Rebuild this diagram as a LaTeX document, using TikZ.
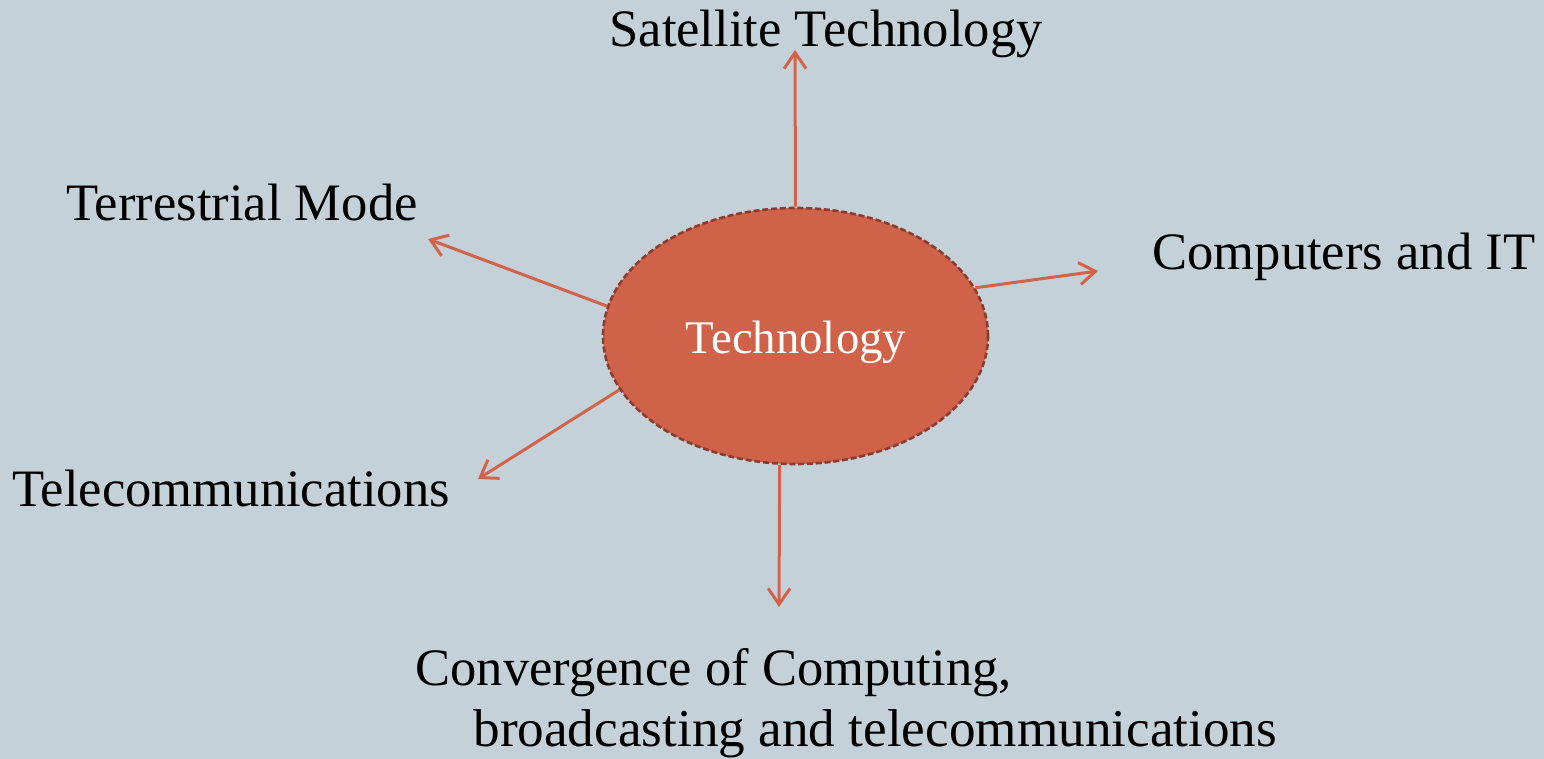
\documentclass[tikz,border=0pt]{standalone}
\usepackage{fontspec}
\setmainfont{Liberation Serif}
\usetikzlibrary{shapes.geometric,arrows.meta}
\definecolor{bgc}{HTML}{C5D1D8}
\definecolor{fillc}{HTML}{D06249}
\definecolor{edgec}{HTML}{8A3C2E}
\definecolor{arrc}{HTML}{D2634A}
\tikzset{
  lbl/.style={anchor=base west, inner sep=0pt, font=\fontsize{26.3}{30.5}\selectfont, text=black},
  hub/.style={ellipse, minimum width=192.5pt, minimum height=128pt, inner sep=0pt,
              fill=fillc, draw=edgec, line width=1.3pt, dash pattern=on 3pt off 1.4pt},
  hubtext/.style={anchor=base, inner sep=0pt, text=white, font=\fontsize{23.4}{28}\selectfont},
  link/.style={draw=arrc, line width=1.5pt, -{Straight Barb[length=8pt, width=11pt]}}
}
\begin{document}
\begin{tikzpicture}[x=0.5pt, y=-0.5pt]
\fill[bgc] (0,0) rectangle (1544,759);
\useasboundingbox (0,0) rectangle (1544,759);

\node[hub] (tech) at (795.5,336) {};
\node[hubtext] (techlbl) at (796,354) {Technology};

\node[lbl] (sat) at (609,47) {Satellite Technology};
\node[lbl] (terr) at (66,221) {Terrestrial Mode};
\node[lbl] (comp) at (1152,270) {Computers and IT};
\node[lbl] (tele) at (12,507) {Telecommunications};
\node[lbl] (conv1) at (415,685) {Convergence of Computing,};
\node[lbl, font=\fontsize{26.6}{30.5}\selectfont] (conv2) at (473,746) {broadcasting and telecommunications};

\coordinate (tsat) at (795,50);
\coordinate (tcomp) at (1098,271);
\coordinate (tterr) at (428,239);
\coordinate (ttele) at (478,479);
\coordinate (tconv) at (779,607);

\draw[link] (tech.90) -- (tsat);
\draw[link] (tech.15.1) -- (tcomp);
\draw[link] (tech.171.8) -- (tterr);
\draw[link] (tech.197.1) -- (ttele);
\draw[link] (tech.263.1) -- (tconv);
\end{tikzpicture}
\end{document}
